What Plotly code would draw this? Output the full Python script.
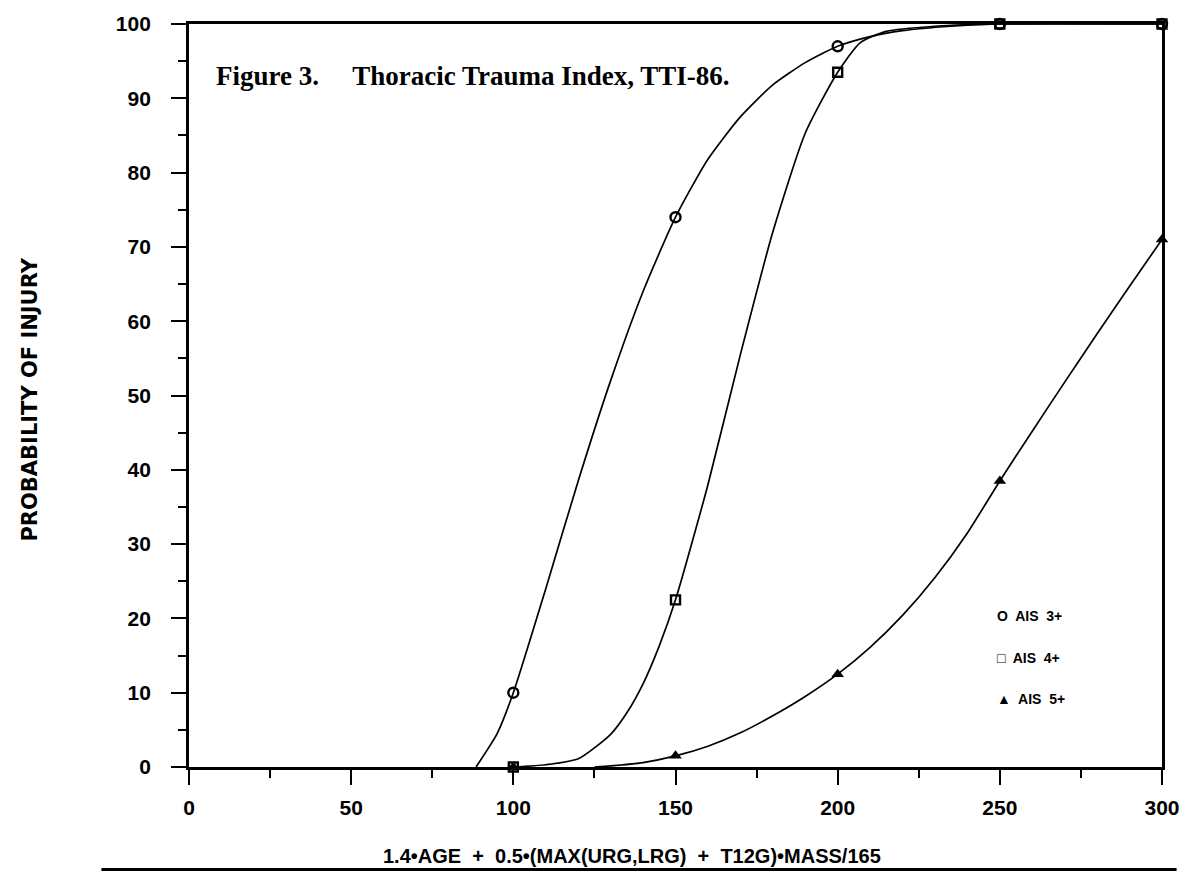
import plotly.graph_objects as go

# ---- data ----
# measured points (markers)
pts_x = [100, 150, 200, 250, 300]
ais3_pts = [10, 74, 97, 100, 100]
ais4_pts = [0, 22.5, 93.5, 100, 100]
ais5_pts = [0, 1.5, 12.5, 38.5, 71]

# fitted curves
ais3_cx = [88.5, 95, 100, 110, 120, 130, 140, 150, 160, 170, 180, 190, 200, 210, 220, 235, 250, 300]
ais3_cy = [0, 4.5, 10, 24, 38.5, 52, 64, 74, 81.8, 87.5, 91.8, 94.8, 97, 98.3, 99.1, 99.7, 100, 100]

ais4_cx = [100, 110, 120, 130, 135, 140, 145, 150, 160, 170, 180, 190, 200, 207, 215, 230, 250, 300]
ais4_cy = [0, 0.3, 1.1, 4.4, 7.3, 11.2, 16.3, 22.5, 38, 55.5, 72, 85.3, 93.5, 97.5, 99, 99.7, 100, 100]

ais5_cx = [125, 130, 140, 150, 160, 170, 180, 190, 200, 210, 220, 230, 240, 250, 260, 270, 280, 290, 300]
ais5_cy = [0, 0.15, 0.6, 1.5, 2.8, 4.6, 6.9, 9.5, 12.5, 16.1, 20.4, 25.5, 31.5, 38.5, 45.2, 51.8, 58.3, 64.7, 71]

x_ticks = [0, 50, 100, 150, 200, 250, 300]
y_ticks = [0, 10, 20, 30, 40, 50, 60, 70, 80, 90, 100]

legend_labels = ["O  AIS  3+", "\u25a1  AIS  4+", "\u25b2  AIS  5+"]

title_text = "Figure 3.\u00a0\u00a0\u00a0\u00a0 Thoracic Trauma Index, TTI-86."
x_title = "1.4\u2022AGE  +  0.5\u2022(MAX(URG,LRG)  +  T12G)\u2022MASS/165"
y_title = "PROBABILITY OF INJURY"

LINE = dict(color="black", width=1.7)
SANS = "Liberation Sans"

fig = go.Figure()

for cx, cy in [(ais3_cx, ais3_cy), (ais4_cx, ais4_cy), (ais5_cx, ais5_cy)]:
    fig.add_trace(go.Scatter(x=cx, y=cy, mode="lines", line=dict(shape="spline", smoothing=0.6, **LINE),
                             hoverinfo="skip", showlegend=False))

fig.add_trace(go.Scatter(x=pts_x, y=ais3_pts, mode="markers", cliponaxis=False, showlegend=False,
                         marker=dict(symbol="circle-open", size=10, color="black", line=dict(width=2.4))))
fig.add_trace(go.Scatter(x=pts_x, y=ais4_pts, mode="markers", cliponaxis=False, showlegend=False,
                         marker=dict(symbol="square-open", size=9, color="black", line=dict(width=2.4))))
fig.add_trace(go.Scatter(x=pts_x, y=ais5_pts, mode="markers", cliponaxis=False, showlegend=False,
                         marker=dict(symbol="triangle-up", size=11, color="black")))

axis_common = dict(showline=True, mirror=True, linecolor="black", linewidth=2.8,
                   ticks="outside", ticklen=15, tickwidth=2, tickcolor="black",
                   showgrid=False, zeroline=False,
                   tickfont=dict(family=SANS, size=21, color="black", weight="bold"))

fig.update_xaxes(range=[0, 300], tickvals=x_ticks, ticktext=[str(v) for v in x_ticks],
                 minor=dict(ticks="outside", ticklen=8, tickwidth=2, tickcolor="black", dtick=25, showgrid=False),
                 ticklabelstandoff=5, **axis_common)
fig.update_yaxes(range=[0, 100], tickvals=y_ticks, ticktext=[str(v) for v in y_ticks],
                 minor=dict(ticks="outside", ticklen=8, tickwidth=2, tickcolor="black", dtick=5, showgrid=False),
                 ticklabelstandoff=16, **axis_common)

fig.add_annotation(text=title_text, xref="paper", yref="y", x=0.026, y=93.0, xanchor="left", yanchor="middle",
                   showarrow=False, font=dict(family="Liberation Serif", size=27, color="black", weight="bold"))

fig.add_annotation(text=x_title, xref="paper", x=0.455, yref="paper", y=-0.12, xanchor="center",
                   yanchor="middle", showarrow=False,
                   font=dict(family=SANS, size=20, color="black", weight="bold"))
fig.add_annotation(text=y_title, xref="paper", yref="paper", x=-0.163, y=0.495, xanchor="center",
                   yanchor="middle", textangle=-90, showarrow=False,
                   font=dict(family="DejaVu Sans", size=21, color="black", weight="bold"))

for i, lab in enumerate(legend_labels):
    fig.add_annotation(text=lab, xref="x", yref="y", x=248.5, y=20.3 - i * 5.6, xanchor="left",
                       yanchor="middle", showarrow=False,
                       font=dict(family=SANS, size=14, color="black", weight="bold"))

# scan border under the axis title
fig.add_shape(type="line", xref="paper", yref="paper", x0=-0.09, x1=1.015, y0=-0.138, y1=-0.138,
              line=dict(color="black", width=3))

fig.update_layout(width=1192, height=880, paper_bgcolor="white", plot_bgcolor="white",
                  margin=dict(l=189, r=27, t=21, b=113), showlegend=False)

fig.write_html("out.html")
